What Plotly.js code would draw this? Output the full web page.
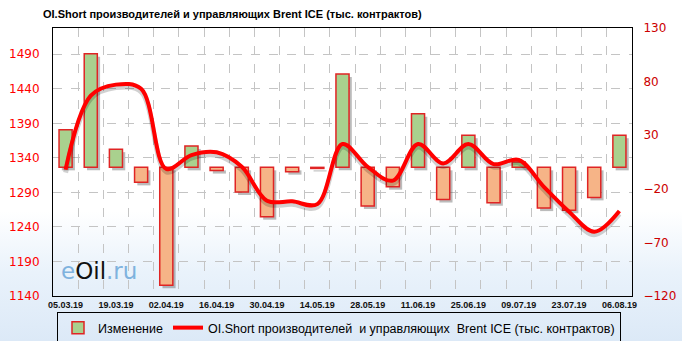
<!DOCTYPE html>
<html>
<head>
<meta charset="utf-8">
<script src="https://cdn.plot.ly/plotly-3.0.1.min.js"></script>
<style>
  html, body { margin: 0; padding: 0; }
  #chart { width: 682px; height: 341px;
    background: linear-gradient(to bottom, #ffffff 0%, #ffffff 62%, #e9f2fb 80%, #dce9f7 100%); }
</style>
</head>
<body>
<div id="chart"></div>
<script>
// Weekly report dates
const dates = ["05.03.19","12.03.19","19.03.19","26.03.19","02.04.19","09.04.19","16.04.19","23.04.19",
  "30.04.19","07.05.19","14.05.19","21.05.19","28.05.19","04.06.19","11.06.19","18.06.19",
  "25.06.19","02.07.19","09.07.19","16.07.19","23.07.19","30.07.19","06.08.19"];
// Weekly change (thousand contracts), right axis
const change = [35, 106, 17, -14, -110, 20, -3, -23, -46, -4, -1, 87, -36, -18, 50, -30, 30, -33, 5, -38, -40, -28, 30];
// OI.Short producers & managers Brent ICE (thousand contracts), left axis
const oiShort = [1323, 1430, 1446, 1440, 1324, 1344, 1348, 1327, 1278, 1277, 1273, 1360, 1327, 1307, 1360,
  1332, 1360, 1331, 1337, 1298, 1262, 1233, 1263];
const leftTicks = [1140, 1190, 1240, 1290, 1340, 1390, 1440, 1490];
const rightTicks = [-120, -70, -20, 30, 80, 130];

const idx = dates.map((d, i) => i);
const labelIdx = idx.filter(i => i % 2 === 0);
const labelText = labelIdx.map(i => dates[i]);

const barColors = change.map(v => v >= 0 ? '#a9d18e' : '#f6b487');

// axis ranges (style) and shadow shift in px
const leftRange = [1140, 1528];
const rightRange = [-120, 130];
const plotH = 268;
const sh = 3;
const shiftR = (rightRange[1] - rightRange[0]) / plotH * sh;
const shiftL = (leftRange[1] - leftRange[0]) / plotH * sh;

const traces = [
  { // bar shadow
    type: 'bar', x: idx, y: change, yaxis: 'y', showlegend: false,
    width: 0.52, offset: -0.26 + 0.11,
    marker: { color: 'rgba(60,60,60,0.35)', line: { width: 0 } },
    hoverinfo: 'skip'
  },
  {
    type: 'bar', x: idx, y: change, yaxis: 'y2', name: 'Изменение',
    width: 0.52,
    marker: { color: barColors, line: { color: '#e02424', width: 1.5 } },
    hoverinfo: 'skip'
  },
  { // line shadow
    type: 'scatter', mode: 'lines', x: idx, y: oiShort, yaxis: 'y3', showlegend: false,
    line: { color: 'rgba(0,0,0,0.18)', width: 5, shape: 'spline', smoothing: 1 },
    hoverinfo: 'skip'
  },
  {
    type: 'scatter', mode: 'lines', x: idx, y: oiShort, yaxis: 'y4',
    name: 'OI.Short производителей  и управляющих  Brent ICE (тыс. контрактов)',
    line: { color: '#ff0000', width: 4, shape: 'spline', smoothing: 1 },
    hoverinfo: 'skip'
  }
];

const layout = {
  width: 682, height: 341,
  margin: { l: 53, r: 50, t: 28, b: 45, autoexpand: false },
  paper_bgcolor: 'rgba(0,0,0,0)',
  plot_bgcolor: 'rgba(0,0,0,0)',
  showlegend: true,
  title: {
    text: '<b>OI.Short производителей и управляющих Brent ICE (тыс. контрактов)</b>',
    x: 43 / 682, xanchor: 'left', y: 1 - 14 / 341, yanchor: 'middle',
    font: { family: 'Liberation Sans, sans-serif', size: 11, color: '#000' }
  },
  xaxis: {
    range: [-0.5, 22.5],
    tickmode: 'array', tickvals: labelIdx, ticktext: labelText,
    tickfont: { family: 'Liberation Sans, sans-serif', size: 9, color: '#111', weight: 'bold' },
    ticks: '', showgrid: false, zeroline: false,
    showline: true, linecolor: '#000', linewidth: 1, mirror: true,
    minor: { tick0: -0.5, dtick: 1, showgrid: true, gridcolor: '#c4c4c4', griddash: 'dash', gridwidth: 1, ticks: '' },
    fixedrange: true
  },
  yaxis: { // shadow axis for bars
    visible: false, range: [rightRange[0] + shiftR, rightRange[1] + shiftR], fixedrange: true
  },
  yaxis2: {
    overlaying: 'y', side: 'right',
    range: rightRange,
    tickmode: 'array', tickvals: rightTicks,
    tickfont: { family: 'DejaVu Sans, sans-serif', size: 12, color: '#cc0000' },
    showgrid: false, zeroline: false, ticks: '', ticklabelstandoff: 8,
    showline: true, linecolor: '#000', linewidth: 1,
    fixedrange: true
  },
  yaxis3: { // shadow axis for line
    overlaying: 'y', visible: false, range: [leftRange[0] + shiftL, leftRange[1] + shiftL], fixedrange: true
  },
  yaxis4: {
    overlaying: 'y', side: 'left',
    range: leftRange,
    tickmode: 'array', tickvals: leftTicks,
    tickfont: { family: 'DejaVu Sans, sans-serif', size: 12, color: '#ff0000' },
    showgrid: true, gridcolor: '#c4c4c4', griddash: 'dash', gridwidth: 1,
    zeroline: false, ticks: '', ticklabelstandoff: 10,
    showline: true, linecolor: '#000', linewidth: 1,
    fixedrange: true
  },
  legend: {
    orientation: 'h', x: 4 / 579, xanchor: 'left', y: -16 / 268, yanchor: 'top',
    bgcolor: 'rgba(0,0,0,0)', bordercolor: '#000', borderwidth: 1,
    font: { family: 'Liberation Sans, sans-serif', size: 12.5, color: '#000' },
    traceorder: 'normal', itemwidth: 30
  },
  annotations: [
    {
      xref: 'paper', yref: 'paper', x: 6 / 579, y: 10 / 268, xanchor: 'left', yanchor: 'bottom',
      text: '<span style="color:#7fb2de">e</span><span style="color:#111">Oil</span><span style="color:#7fb2de">.ru</span>',
      showarrow: false, font: { family: 'DejaVu Sans, sans-serif', size: 23 }
    }
  ],
  bargap: 0.48
};

Plotly.newPlot('chart', traces, layout, { staticPlot: true, displayModeBar: false });
</script>
</body>
</html>
